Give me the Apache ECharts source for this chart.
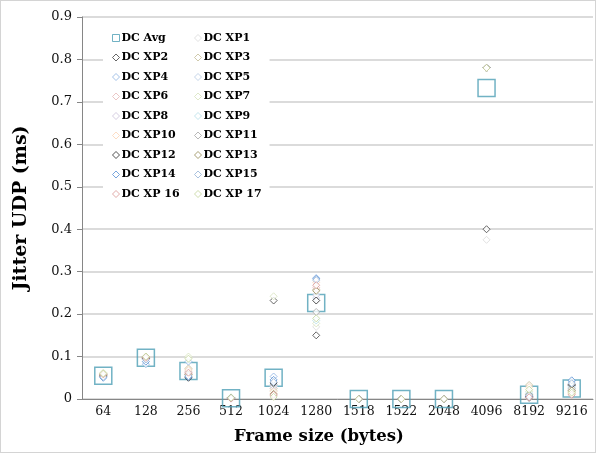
<!DOCTYPE html>
<html>
<head>
<meta charset="utf-8">
<script src="https://cdn.jsdelivr.net/npm/echarts@6/dist/echarts.min.js"></script>
<style>
  html, body { margin: 0; padding: 0; background: #fff; }
  #chart { width: 596px; height: 453px; box-sizing: border-box; border: 1px solid #d4d4d4; }
</style>
</head>
<body>
<div id="chart"></div>
<script>
// Frame sizes tested (bytes)
const categories = ['64', '128', '256', '512', '1024', '1280', '1518', '1522', '2048', '4096', '8192', '9216'];

// Average UDP jitter (ms) across all runs
const dcAvg = [0.055, 0.097, 0.066, 0.002, 0.050, 0.226, 0, 0, 0, 0.733, 0.010, 0.025];

// Per-run UDP jitter (ms)
const dcXP1  = [0.055, 0.095, 0.070, 0.002, 0.020, 0.170, 0, 0, 0, 0.375, 0.002, 0.020];
const dcXP2  = [0.058, 0.098, 0.052, 0.003, 0.232, 0.150, 0, 0, 0, 0.400, 0.003, 0.032];
const dcXP3  = [0.060, 0.100, 0.072, 0.002, 0.025, 0.258, 0, 0, 0, 0.780, 0.033, 0.018];
const dcXP4  = [0.052, 0.082, 0.088, 0.003, 0.053, 0.285, 0, 0, 0, 0.780, 0.007, 0.040];
const dcXP5  = [0.054, 0.094, 0.056, 0.002, 0.030, 0.238, 0, 0, 0, 0.780, 0.012, 0.030];
const dcXP6  = [0.056, 0.097, 0.064, 0.001, 0.008, 0.262, 0, 0, 0, 0.780, 0.005, 0.012];
const dcXP7  = [0.062, 0.099, 0.100, 0.004, 0.242, 0.178, 0, 0, 0, 0.780, 0.018, 0.016];
const dcXP8  = [0.053, 0.096, 0.060, 0.002, 0.030, 0.245, 0, 0, 0, 0.780, 0.008, 0.022];
const dcXP9  = [0.057, 0.095, 0.066, 0.003, 0.035, 0.185, 0, 0, 0, 0.780, 0.014, 0.027];
const dcXP10 = [0.059, 0.098, 0.068, 0.002, 0.018, 0.275, 0, 0, 0, 0.780, 0.028, 0.013];
const dcXP11 = [0.055, 0.097, 0.058, 0.003, 0.035, 0.205, 0, 0, 0, 0.780, 0.004, 0.025];
const dcXP12 = [0.054, 0.096, 0.050, 0.002, 0.038, 0.232, 0, 0, 0, 0.780, 0.006, 0.034];
const dcXP13 = [0.056, 0.099, 0.058, 0.003, 0.012, 0.255, 0, 0, 0, 0.780, 0.010, 0.020];
const dcXP14 = [0.050, 0.088, 0.052, 0.002, 0.045, 0.283, 0, 0, 0, 0.780, 0.006, 0.044];
const dcXP15 = [0.052, 0.093, 0.054, 0.002, 0.040, 0.280, 0, 0, 0, 0.780, 0.009, 0.037];
const dcXP16 = [0.058, 0.097, 0.062, 0.001, 0.010, 0.268, 0, 0, 0, 0.780, 0.004, 0.010];
const dcXP17 = [0.060, 0.100, 0.095, 0.003, 0.005, 0.190, 0, 0, 0, 0.780, 0.022, 0.015];

// Y-axis ticks
const yTicks = { min: 0, max: 0.9, step: 0.1 };

const runNames = ['DC XP1', 'DC XP2', 'DC XP3', 'DC XP4', 'DC XP5', 'DC XP6', 'DC XP7', 'DC XP8',
  'DC XP9', 'DC XP10', 'DC XP11', 'DC XP12', 'DC XP13', 'DC XP14', 'DC XP15', 'DC XP 16', 'DC XP 17'];
const runValues = [dcXP1, dcXP2, dcXP3, dcXP4, dcXP5, dcXP6, dcXP7, dcXP8, dcXP9, dcXP10,
  dcXP11, dcXP12, dcXP13, dcXP14, dcXP15, dcXP16, dcXP17];
const runColors = ['#d9d9d9', '#404040', '#c4bd97', '#8db3e2', '#b8cce4', '#e6b9b8', '#d7e4bd',
  '#ccc1da', '#b7dee8', '#fcd5b5', '#a6a6a6', '#262626', '#948a54', '#558ed5', '#95b3d7',
  '#d99694', '#c3d69b'];
const avgColor = '#4e9fb5';

const serif = '"DejaVu Serif", "Liberation Serif", serif';

const series = [{
  name: 'DC Avg',
  type: 'scatter',
  symbol: 'rect',
  symbolSize: 17,
  z: 1,
  itemStyle: { color: 'rgba(255,255,255,0)', borderColor: avgColor, borderWidth: 1.5 },
  data: dcAvg
}];
runNames.forEach((name, i) => {
  series.push({
    name: name,
    type: 'scatter',
    symbol: 'diamond',
    symbolSize: 7,
    z: 3,
    itemStyle: { color: '#ffffff', borderColor: runColors[i], borderWidth: 1 },
    data: runValues[i]
  });
});

const allNames = ['DC Avg'].concat(runNames);
const legendItem = (name) => {
  const idx = allNames.indexOf(name);
  if (idx === 0) {
    return { name, icon: 'rect', itemStyle: { color: '#fff', borderColor: avgColor, borderWidth: 1 } };
  }
  return { name, icon: 'diamond', itemStyle: { color: '#fff', borderColor: runColors[idx - 1], borderWidth: 1 } };
};
const leftCol = allNames.filter((_, i) => i % 2 === 0).map(legendItem);
const rightCol = allNames.filter((_, i) => i % 2 === 1).map(legendItem);

const legendBase = {
  orient: 'vertical',
  top: 25,
  itemWidth: 7,
  itemHeight: 7,
  itemGap: 7.5,
  backgroundColor: '#ffffff',
  selectedMode: false,
  textStyle: { fontFamily: serif, fontWeight: 'bold', fontSize: 11, color: '#000', lineHeight: 12, padding: [0, 0, 0, -3] }
};

const chart = echarts.init(document.getElementById('chart'), null, { renderer: 'canvas' });
chart.setOption({
  animation: false,
  backgroundColor: '#ffffff',
  grid: { left: 81, right: 2, top: 16, bottom: 53 },
  legend: [
    Object.assign({}, legendBase, { left: 102, padding: [6, 10, 6, 9], data: leftCol }),
    Object.assign({}, legendBase, { left: 184, padding: [6, 8, 6, 9], data: rightCol })
  ],
  xAxis: {
    type: 'category',
    data: categories,
    boundaryGap: true,
    axisLine: { lineStyle: { color: '#868686', width: 1 } },
    axisTick: { show: false },
    axisLabel: { fontFamily: serif, fontSize: 12.5, color: '#111', margin: 6 }
  },
  yAxis: {
    type: 'value',
    min: yTicks.min,
    max: yTicks.max,
    interval: yTicks.step,
    name: 'Jitter UDP (ms)',
    nameLocation: 'middle',
    nameGap: 51,
    nameTextStyle: { fontFamily: serif, fontWeight: 'bold', fontSize: 19, color: '#000' },
    axisLine: { show: true, lineStyle: { color: '#868686', width: 1 } },
    axisTick: { show: true, length: 5, lineStyle: { color: '#868686' } },
    splitLine: { lineStyle: { color: '#cfcfcf', width: 1.5 } },
    axisLabel: {
      fontFamily: serif, fontSize: 13, color: '#111', margin: 10,
      formatter: (v) => (v === 0 ? '0' : v.toFixed(1))
    }
  },
  graphic: [{
    type: 'text',
    x: 318,
    y: 427,
    style: {
      text: 'Frame size (bytes)',
      font: 'bold 16.5px ' + serif,
      fill: '#000',
      align: 'center'
    }
  }],
  series: series
});
</script>
</body>
</html>
